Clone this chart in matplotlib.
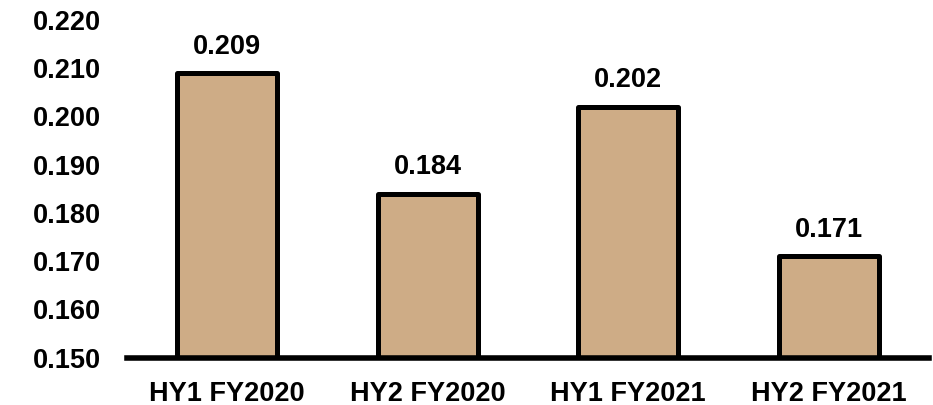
import matplotlib
matplotlib.use("Agg")
import matplotlib.pyplot as plt
import numpy as np

categories = ["HY1 FY2020", "HY2 FY2020", "HY1 FY2021", "HY2 FY2021"]
values = [0.209, 0.184, 0.202, 0.171]
y_ticks = [0.150, 0.160, 0.170, 0.180, 0.190, 0.200, 0.210, 0.220]

plt.rcParams['font.family'] = ['Liberation Sans', 'DejaVu Sans']
FS = 19.5

fig = plt.figure(figsize=(9.33, 4.05), dpi=100)
ax = fig.add_axes([127/933, 1 - 357.8/405, (929-127)/933, (357.8-19.7)/405])

x = np.arange(len(categories))
base = y_ticks[0]
bars = ax.bar(x, [v - base for v in values], bottom=base, width=0.5,
              color='#CEAC86', edgecolor='black', linewidth=3.6, zorder=2)
for b in bars:
    b.set_joinstyle('round')

for xi, v in zip(x, values):
    ax.annotate(f"{v:.3f}", (xi, v), xytext=(0, 9.5), textcoords='offset points',
                ha='center', va='bottom', fontsize=FS, fontweight='bold')

ax.set_xlim(-0.5, len(categories) - 0.5)
ax.set_ylim(y_ticks[0], y_ticks[-1])
ax.set_yticks(y_ticks)
ax.set_yticklabels([f"{t:.3f}" for t in y_ticks], fontsize=FS, fontweight='bold')
ax.set_xticks(x)
ax.set_xticklabels(categories, fontsize=FS, fontweight='bold')
ax.tick_params(axis='y', length=0, pad=19)
ax.tick_params(axis='x', length=0, pad=16.5)
for s in ['top', 'right', 'left']:
    ax.spines[s].set_visible(False)
ax.spines['bottom'].set_linewidth(4)
ax.spines['bottom'].set_zorder(3)

fig.savefig("out.png", dpi=100)
